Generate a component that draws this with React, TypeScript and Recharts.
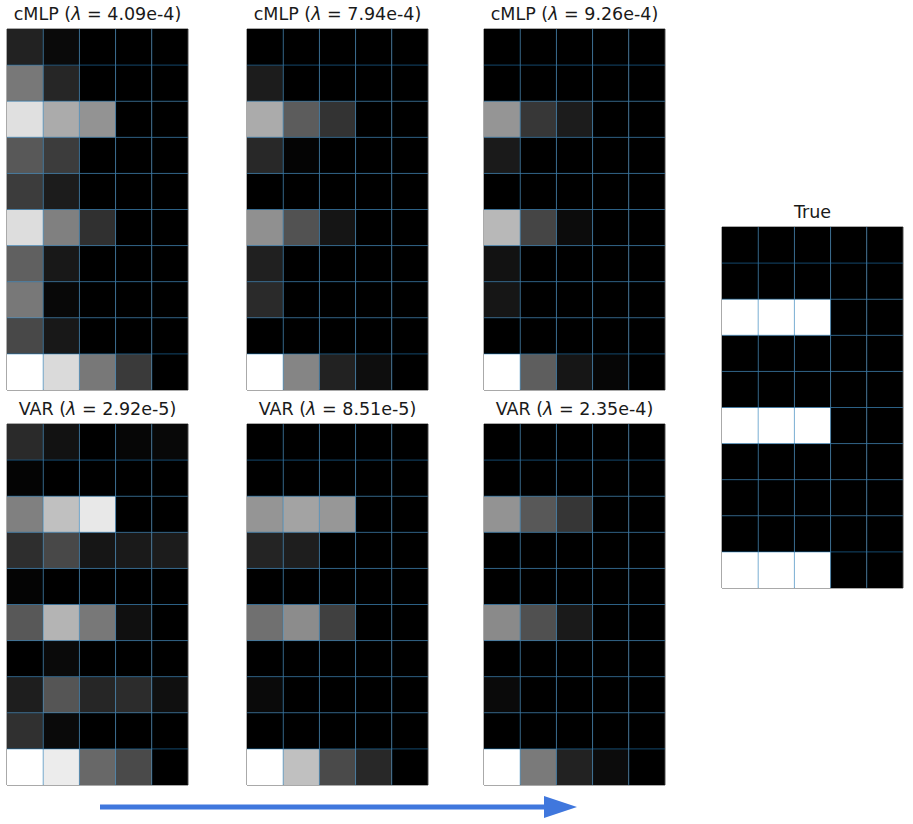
import React from 'react';
import { BarChart, Bar, XAxis, YAxis, Cell, ReferenceLine, ReferenceArea } from 'recharts';

// column positions (cell centres) / row identifiers
const COLS = [0.5, 1.5, 2.5, 3.5, 4.5];
const ROW_KEYS = ['r0', 'r1', 'r2', 'r3', 'r4', 'r5', 'r6', 'r7', 'r8', 'r9'];

// gray levels (0-255), rows top -> bottom
const cmlpA = [
  [34, 10, 0, 0, 0],
  [120, 38, 0, 0, 0],
  [224, 171, 147, 0, 0],
  [88, 60, 0, 0, 0],
  [60, 28, 0, 0, 0],
  [221, 128, 48, 0, 0],
  [96, 24, 0, 0, 0],
  [120, 8, 0, 0, 0],
  [72, 24, 0, 0, 0],
  [255, 218, 120, 58, 0],
];
const cmlpB = [
  [0, 0, 0, 0, 0],
  [28, 0, 0, 0, 0],
  [171, 92, 51, 0, 0],
  [40, 4, 0, 0, 0],
  [0, 0, 0, 0, 0],
  [144, 82, 21, 0, 0],
  [32, 0, 0, 0, 0],
  [42, 0, 0, 0, 0],
  [0, 0, 0, 0, 0],
  [255, 133, 34, 14, 0],
];
const cmlpC = [
  [0, 0, 0, 0, 0],
  [0, 0, 0, 0, 0],
  [149, 55, 28, 0, 0],
  [26, 0, 0, 0, 0],
  [0, 0, 0, 0, 0],
  [184, 69, 12, 0, 0],
  [18, 0, 0, 0, 0],
  [22, 0, 0, 0, 0],
  [0, 0, 0, 0, 0],
  [255, 94, 22, 6, 0],
];
const varA = [
  [42, 18, 0, 6, 8],
  [4, 0, 0, 0, 0],
  [128, 192, 232, 0, 0],
  [46, 72, 22, 26, 28],
  [4, 0, 0, 0, 0],
  [88, 180, 120, 16, 0],
  [0, 10, 0, 0, 0],
  [30, 85, 38, 44, 16],
  [48, 10, 0, 0, 0],
  [255, 236, 104, 74, 0],
];
const varB = [
  [0, 0, 0, 0, 0],
  [0, 0, 0, 0, 0],
  [149, 163, 151, 0, 0],
  [36, 30, 0, 0, 0],
  [0, 0, 0, 0, 0],
  [112, 140, 64, 0, 0],
  [0, 0, 0, 0, 0],
  [10, 0, 0, 0, 0],
  [0, 0, 0, 0, 0],
  [255, 192, 74, 40, 0],
];
const varC = [
  [0, 0, 0, 0, 0],
  [0, 0, 0, 0, 0],
  [147, 88, 54, 0, 0],
  [0, 0, 0, 0, 0],
  [0, 0, 0, 0, 0],
  [138, 80, 26, 0, 0],
  [0, 0, 0, 0, 0],
  [10, 0, 0, 0, 0],
  [0, 0, 0, 0, 0],
  [255, 122, 34, 12, 0],
];
const trueGC = [
  [0, 0, 0, 0, 0],
  [0, 0, 0, 0, 0],
  [255, 255, 255, 0, 0],
  [0, 0, 0, 0, 0],
  [0, 0, 0, 0, 0],
  [255, 255, 255, 0, 0],
  [0, 0, 0, 0, 0],
  [0, 0, 0, 0, 0],
  [0, 0, 0, 0, 0],
  [255, 255, 255, 0, 0],
];

const titles = [
  ['cMLP', '4.09e-4'],
  ['cMLP', '7.94e-4'],
  ['cMLP', '9.26e-4'],
  ['VAR', '2.92e-5'],
  ['VAR', '8.51e-5'],
  ['VAR', '2.35e-4'],
];

const PW = 181;
const PH = 361;

const gray = (v: number) => `rgb(${v},${v},${v})`;

const GRID_X = [1, 2, 3, 4];
const GRID_Y = [1, 2, 3, 4, 5, 6, 7, 8, 9];

function Heat({ matrix, left, top, title }: { matrix: number[][]; left: number; top: number; title: React.ReactNode }) {
  const data = COLS.map((c) => {
    const o: any = { col: c };
    ROW_KEYS.forEach((k) => (o[k] = 1));
    return o;
  });
  const stackOrder = [...ROW_KEYS].reverse();
  return (
    <>
      <div
        style={{
          position: 'absolute',
          left: left - 30,
          width: PW + 60,
          top: top - 25,
          textAlign: 'center',
          fontFamily: 'DejaVu Sans',
          fontSize: 17.5,
          lineHeight: '20px',
          color: '#1a1a1a',
          whiteSpace: 'nowrap',
        }}
      >
        {title}
      </div>
      <div style={{ position: 'absolute', left: left - 1, top: top - 1 }}>
        <BarChart
          width={PW + 2}
          height={PH + 2}
          data={data}
          margin={{ top: 1, right: 1, bottom: 1, left: 1 }}
          barCategoryGap={0}
          barGap={0}
        >
          <XAxis dataKey="col" type="number" domain={[0, 5]} hide allowDataOverflow />
          <YAxis type="number" domain={[0, 10]} hide allowDataOverflow />
          {stackOrder.map((k) => {
            const ri = ROW_KEYS.indexOf(k);
            return (
              <Bar key={k} dataKey={k} stackId="s" isAnimationActive={false}>
                {COLS.map((c, j) => (
                  <Cell key={c} fill={gray(matrix[ri][j])} />
                ))}
              </Bar>
            );
          })}
          {GRID_X.map((x) => (
            <ReferenceLine key={'x' + x} x={x} stroke="#1f77b4" strokeOpacity={0.6} strokeWidth={1} />
          ))}
          {GRID_Y.map((y) => (
            <ReferenceLine key={'y' + y} y={y} stroke="#1f77b4" strokeOpacity={0.6} strokeWidth={1} />
          ))}
          <ReferenceArea x1={0} x2={5} y1={0} y2={10} fill="none" fillOpacity={0} stroke="#555" strokeWidth={1} />
        </BarChart>
      </div>
    </>
  );
}

const mkTitle = (name: string, lam: string) => (
  <span>
    {name} (<i>λ</i> = {lam})
  </span>
);

export default function App() {
  const matrices = [cmlpA, cmlpB, cmlpC, varA, varB, varC];
  const lefts = [7, 247, 484, 7, 247, 484];
  const tops = [29, 29, 29, 424, 424, 424];
  return (
    <div style={{ position: 'absolute', left: 0, top: 0, width: 913, height: 824, background: '#fff' }}>
      {matrices.map((m, i) => (
        <Heat key={i} matrix={m} left={lefts[i]} top={tops[i]} title={mkTitle(titles[i][0], titles[i][1])} />
      ))}
      <Heat matrix={trueGC} left={722} top={227} title={<span>True</span>} />
      <svg style={{ position: 'absolute', left: 0, top: 0 }} width={913} height={824}>
        <line x1={100} y1={807} x2={546} y2={807} stroke="#4077dd" strokeWidth={5} />
        <polygon points="544,796 577,807 544,818" fill="#4077dd" />
      </svg>
    </div>
  );
}
